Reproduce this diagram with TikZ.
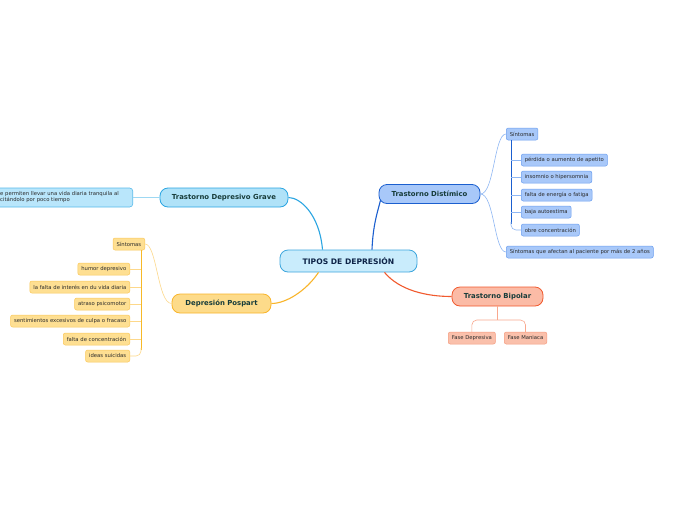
\documentclass[tikz,border=0pt]{standalone}
\usepackage{fontspec}
\setmainfont{DejaVu Sans}
\begin{document}
\begin{tikzpicture}[x=1pt,y=-1pt,
  mainnode/.style={draw, rounded corners=8pt, line width=0.8pt, font=\bfseries\fontsize{6.9}{8}\selectfont, text=maintext, inner sep=0pt, minimum height=19pt},
  smallnode/.style={draw, rounded corners=2pt, line width=0.5pt, font=\fontsize{5.3}{6}\selectfont, text=smalltext, inner ysep=0pt, inner xsep=3.5pt, minimum height=12pt},
  conn/.style={line width=1.1pt},
  thin/.style={line width=0.6pt}]
\definecolor{maintext}{HTML}{173C3A}
\definecolor{smalltext}{HTML}{2A2A2A}
\definecolor{cenfill}{HTML}{C9ECFC}
\definecolor{cenborder}{HTML}{3DA6DD}
\definecolor{centext}{HTML}{0D2347}
\definecolor{grfill}{HTML}{B0E2F8}
\definecolor{grborder}{HTML}{2AA5E2}
\definecolor{lbfill}{HTML}{B9E6FB}
\definecolor{lbborder}{HTML}{58BAEA}
\definecolor{grline}{HTML}{9DD8F3}
\definecolor{disfill}{HTML}{A8C8F9}
\definecolor{disborder}{HTML}{1B5FCF}
\definecolor{dischborder}{HTML}{6A9EF0}
\definecolor{disline}{HTML}{8FB7F3}
\definecolor{bifill}{HTML}{FBBBA6}
\definecolor{biborder}{HTML}{F15A2E}
\definecolor{bichfill}{HTML}{FAC0AB}
\definecolor{bichborder}{HTML}{F59B7E}
\definecolor{biline}{HTML}{F9A88E}
\definecolor{pofill}{HTML}{FDDB8A}
\definecolor{poborder}{HTML}{F9B52A}
\definecolor{pochfill}{HTML}{FEDF92}
\definecolor{pochborder}{HTML}{FBC85A}
\definecolor{poline}{HTML}{FDD88A}
\definecolor{pobus}{HTML}{F7B928}
\useasboundingbox[fill=white] (0,0) rectangle (696,520);
\begin{scope}
\clip (0,0) rectangle (696,520);
% central
\node[draw=cenborder, fill=cenfill, rounded corners=8pt, line width=0.8pt, minimum width=137pt, minimum height=22pt, inner sep=0pt, text=centext, font=\bfseries\fontsize{7.6}{9}\selectfont] (cen) at (348.5,261) {TIPOS DE DEPRESIÓN};
% main nodes
\node[mainnode, draw=grborder, fill=grfill, minimum width=128pt] (grave) at (224,197.5) {Trastorno Depresivo Grave};
\node[mainnode, draw=disborder, fill=disfill, minimum width=101pt] (dis) at (429.5,194) {Trastorno Distímico};
\node[mainnode, draw=biborder, fill=bifill, minimum width=91pt] (bip) at (497.5,296.5) {Trastorno Bipolar};
\node[mainnode, draw=poborder, fill=pofill, minimum width=99pt] (pos) at (221.5,303.5) {Depresión Pospart};
% left box
\node[draw=lbborder, fill=lbfill, rounded corners=3pt, line width=0.6pt, anchor=east, minimum height=19pt, minimum width=150pt, inner sep=0pt] (lb) at (133,197.5) {};
\node[anchor=west, align=left, inner sep=0pt, text=smalltext, font=\fontsize{5.3}{6}\selectfont] (lbt) at (0,197.5) {e permiten llevar una vida diaria tranquila al\\citándolo por poco tiempo};
% distimico children
\node[smallnode, draw=dischborder, fill=disfill, anchor=west] (ds) at (506,134) {Síntomas};
\node[smallnode, draw=dischborder, fill=disfill, anchor=west] (d1) at (521,160) {pérdida o aumento de apetito};
\node[smallnode, draw=dischborder, fill=disfill, anchor=west] (d2) at (521,177) {insomnio o hipersomnia};
\node[smallnode, draw=dischborder, fill=disfill, anchor=west] (d3) at (521,195) {falta de energía o fatiga};
\node[smallnode, draw=dischborder, fill=disfill, anchor=west] (d4) at (521,212) {baja autoestima};
\node[smallnode, draw=dischborder, fill=disfill, anchor=west] (d5) at (521,230) {obre concentración};
\node[smallnode, draw=dischborder, fill=disfill, anchor=west] (d6) at (506,252) {Síntomas que afectan al paciente por más de 2 años};
% bipolar children
\node[smallnode, draw=bichborder, fill=bichfill, anchor=west] (b1) at (448,338) {Fase Depresiva};
\node[smallnode, draw=bichborder, fill=bichfill, anchor=west] (b2) at (504,338) {Fase Maniaca};
% pospart children
\node[smallnode, draw=pochborder, fill=pochfill, anchor=east] (ps) at (145,244) {Síntomas};
\node[smallnode, draw=pochborder, fill=pochfill, anchor=east] (p1) at (130,269) {humor depresivo};
\node[smallnode, draw=pochborder, fill=pochfill, anchor=east] (p2) at (130,287) {la falta de interés en du vida diaria};
\node[smallnode, draw=pochborder, fill=pochfill, anchor=east] (p3) at (130,304) {atraso psicomotor};
\node[smallnode, draw=pochborder, fill=pochfill, anchor=east] (p4) at (130,321) {sentimientos excesivos de culpa o fracaso};
\node[smallnode, draw=pochborder, fill=pochfill, anchor=east] (p5) at (130,339) {falta de concentración};
\node[smallnode, draw=pochborder, fill=pochfill, anchor=east] (p6) at (130,356) {ideas suicidas};
% main connectors
\draw[conn, draw=grborder] ([xshift=-26pt]cen.north) .. controls +(-3,-35) and +(12,0) .. (grave.east);
\draw[conn, draw=disborder] ([xshift=23.5pt]cen.north) .. controls +(1,-25) and +(-3,12) .. ([shift={(2,-4)}]dis.south west);
\draw[conn, draw=biborder] ([xshift=36pt]cen.south) .. controls +(15,18) and +(-25,0) .. (bip.west);
\draw[conn, draw=poborder] ([xshift=-30pt]cen.south) .. controls +(-12,18) and +(15,0) .. (pos.east);
% grave to left box
\draw[line width=1pt, draw=grline] (grave.west) -- (lb.east);
% distimico branches
\draw[thin, draw=disline] (dis.east) .. controls +(14,0) and +(-12,0) .. (ds.west);
\draw[thin, draw=disline] (dis.east) .. controls +(14,0) and +(-12,0) .. (d6.west);
\coordinate (dbus) at (511,140);
\draw[line width=0.9pt, draw=disborder] (dbus) -- (511,224);
\draw[thin, draw=disline, rounded corners=5pt] (511,222) -- (511,230) -- (d5.west);
\foreach \n in {d1,d2,d3,d4}{\draw[thin, draw=disline] (511,0 |- \n.west) -- (\n.west);}
% bipolar branches
\coordinate (bj) at (497.5,320);
\draw[line width=0.8pt, draw=biline] (bip.south) -- (bj);
\draw[thin, draw=biline, rounded corners=5pt] (bj) -| (b1.north);
\draw[thin, draw=biline, rounded corners=5pt] (bj) -| (b2.north);
% pospart branches
\draw[thin, draw=poline] (pos.west) .. controls +(-14,0) and +(12,0) .. (ps.east);
\coordinate (pbus) at (141,250);
\draw[line width=1pt, draw=pobus] (pbus) -- (141,350);
\draw[thin, draw=poline, rounded corners=5pt] (141,348) -- (141,356) -- (p6.east);
\foreach \n in {p1,p2,p3,p4,p5}{\draw[thin, draw=poline] (141,0 |- \n.east) -- (\n.east);}
\end{scope}
\end{tikzpicture}
\end{document}
